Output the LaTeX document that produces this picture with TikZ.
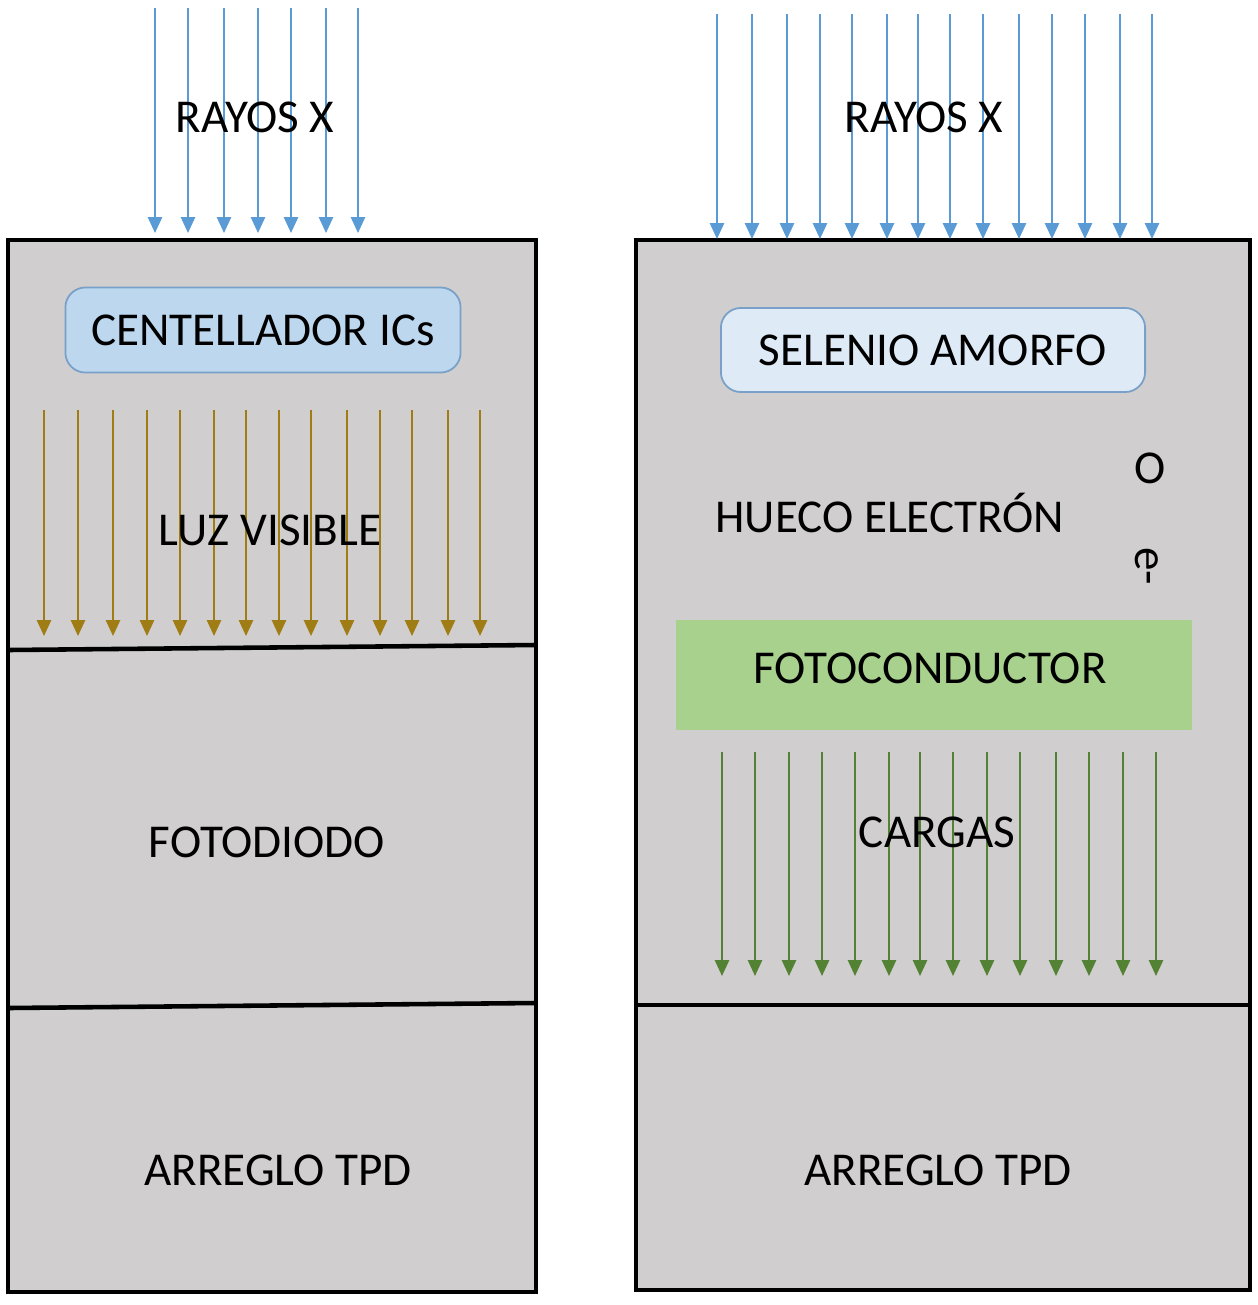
\documentclass[tikz,border=0pt]{standalone}
\usepackage{fontspec}
\setmainfont{Carlito}
\usetikzlibrary{arrows.meta}
\definecolor{panelgray}{RGB}{208,206,206}
\definecolor{xrayblue}{RGB}{91,155,213}
\definecolor{lightblue}{RGB}{189,215,238}
\definecolor{paleblue}{RGB}{222,235,247}
\definecolor{boxblue}{RGB}{120,160,200}
\definecolor{lightgold}{RGB}{160,125,20}
\definecolor{chargegreen}{RGB}{84,130,53}
\definecolor{photogreen}{RGB}{169,209,142}

\begin{document}
\begin{tikzpicture}[x = 0.01cm, y = -0.01cm,
                      panel/.style = {draw, line width = 1.3pt, fill = panelgray},
                      sep/.style = {draw, line width = 1.3pt},
                      txt/.style = {font = \fontsize{13.4}{16}\selectfont, inner sep = 0pt},
                      xray/.style = {draw = xrayblue, line width = 0.6pt, -{Triangle[width = 4pt, length = 4.5pt]}},
                      light/.style = {draw = lightgold, line width = 0.6pt, -{Triangle[width = 4pt, length = 4.5pt]}},
                      charge/.style = {draw = chargegreen, line width = 0.6pt, -{Triangle[width = 4pt, length = 4.5pt]}},
                      layer/.style = {txt, draw = boxblue, line width = 0.5pt, rounded corners = 0.2cm}]
    \useasboundingbox (0, 0) rectangle (1258, 1305);

    % left panel: indirect conversion
    \filldraw [panel] (8, 240) rectangle (536, 1292);
    \draw [sep] (8, 650) -- (536, 645);
    \draw [sep] (8, 1008) -- (536, 1003);
    \foreach \x in {155, 188, 224, 258, 291, 326, 358}
        \draw [xray] (\x, 8) -- (\x, 233);
    \foreach \x in {44, 78, 113, 147, 180, 214, 246, 279, 311, 347, 380, 412, 448, 480}
        \draw [light] (\x, 410) -- (\x, 636);
    \node [txt] (rayos1) at (255, 117) {RAYOS X};
    \node [layer, fill = lightblue, minimum width = 3.95cm, minimum height = 0.85cm] (cent) at (263, 330) {CENTELLADOR ICs};
    \node [txt] (luz) at (270, 530) {LUZ VISIBLE};
    \node [txt] (foto) at (267, 842) {FOTODIODO};
    \node [txt] (tpd1) at (278, 1170) {ARREGLO TPD};

    % right panel: direct conversion
    \filldraw [panel] (636, 240) rectangle (1250, 1290);
    \draw [sep] (636, 1005) -- (1250, 1005);
    \foreach \x in {717, 752, 787, 820, 852, 887, 918, 950, 983, 1019, 1052, 1085, 1120, 1152}
        \draw [xray] (\x, 14) -- (\x, 239);
    \node [txt] (rayos2) at (924, 117) {RAYOS X};
    \node [layer, fill = paleblue, minimum width = 4.24cm, minimum height = 0.84cm] (selen) at (933, 350) {SELENIO AMORFO};
    \node [txt] (hueco) at (890, 513) {HUECO ELECTRÓN};
    \node [txt] (hole) at (1150, 468) {O};
    \node [txt, rotate = -90] (elec) at (1147, 566) {e-};
    \node [txt, fill = photogreen, minimum width = 5.15cm, minimum height = 1.1cm] (fotoc) at (934, 675) {};
    \node [txt] (fotoctxt) at (930, 668) {FOTOCONDUCTOR};
    \foreach \x in {722, 755, 789, 822, 855, 889, 920, 953, 987, 1020, 1056, 1089, 1123, 1156}
        \draw [charge] (\x, 752) -- (\x, 976);
    \node [txt] (cargas) at (937, 832) {CARGAS};
    \node [txt] (tpd2) at (938, 1170) {ARREGLO TPD};
\end{tikzpicture}
\end{document}
